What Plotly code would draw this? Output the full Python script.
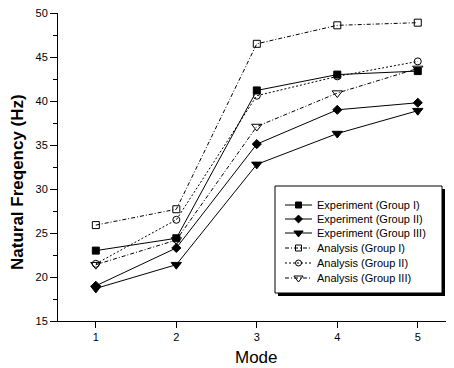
import plotly.graph_objects as go

modes = [1, 2, 3, 4, 5]
exp_g1 = [23.0, 24.4, 41.2, 43.0, 43.4]
exp_g2 = [19.0, 23.3, 35.1, 39.0, 39.8]
exp_g3 = [18.7, 21.4, 32.8, 36.3, 38.9]
ana_g1 = [25.9, 27.7, 46.5, 48.6, 48.9]
ana_g2 = [21.5, 26.5, 40.6, 42.8, 44.5]
ana_g3 = [21.4, 24.2, 37.1, 40.9, 43.7]
tick_y = [15, 20, 25, 30, 35, 40, 45, 50]

DASHDOT = "4px,2px,1px,2px"
DOT = "2px,2px"
series = [
    ("Experiment (Group I)", exp_g1, "square", "solid", 7),
    ("Experiment (Group II)", exp_g2, "diamond", "solid", 7),
    ("Experiment (Group III)", exp_g3, "triangle-down", "solid", 9),
    ("Analysis (Group I)", ana_g1, "square-open", DASHDOT, 7),
    ("Analysis (Group II)", ana_g2, "circle-open", DOT, 7),
    ("Analysis (Group III)", ana_g3, "triangle-down-open", DASHDOT, 9),
]

# page has an 8px body margin; plot area in page pixels
OFF = 8
L, R, T, B = 58, 454, 13, 321
W, H = 454 - OFF, 368 - OFF

def px(x):
    return (x - L) / (R - L)

def py(y):
    return (B - y) / (B - T)

FONT = "Liberation Sans, Arial"
fig = go.Figure()
for name, vals, sym, dash, size in series:
    fig.add_trace(go.Scatter(
        x=modes, y=vals, name=name, mode="lines+markers", showlegend=False,
        line=dict(color="black", width=1, dash=dash),
        marker=dict(symbol=sym, size=size, color="black",
                    line=dict(color="black", width=1)),
    ))

# custom legend (box with shadow)
box = dict(x0=275, x1=442, y0=186, y1=293)
shapes = [
    dict(type="rect", xref="paper", yref="paper", layer="below",
         x0=px(box["x0"] + 3), x1=px(box["x1"] + 3), y0=py(box["y0"] + 3), y1=py(box["y1"] + 3),
         fillcolor="black", line=dict(width=0)),
    dict(type="rect", xref="paper", yref="paper", layer="below",
         x0=px(box["x0"]), x1=px(box["x1"]), y0=py(box["y0"]), y1=py(box["y1"]),
         fillcolor="white", line=dict(color="black", width=1)),
]
annotations = []
row_y = [205, 219, 233, 248, 263, 278]
for (name, vals, sym, dash, size), ry in zip(series, row_y):
    shapes.append(dict(type="line", xref="paper", yref="paper", layer="below",
                       x0=px(285), x1=px(312), y0=py(ry), y1=py(ry),
                       line=dict(color="black", width=1, dash=dash)))
    fig.add_trace(go.Scatter(
        x=[298.5], y=[ry], xaxis="x2", yaxis="y2", mode="markers", showlegend=False,
        hoverinfo="skip",
        marker=dict(symbol=sym, size=size - 1, color="black",
                    line=dict(color="black", width=1)),
    ))
    annotations.append(dict(text=name, xref="paper", yref="paper", x=px(315), y=py(ry),
                            xanchor="left", yanchor="middle", showarrow=False,
                            font=dict(family=FONT, size=11, color="black")))

# axis titles
annotations.append(dict(text="Mode", xref="paper", yref="paper", x=px(256), y=py(357),
                        xanchor="center", yanchor="middle", showarrow=False,
                        font=dict(family=FONT, size=17, color="black")))
annotations.append(dict(text="<b>Natural Freqency (Hz)</b>", xref="paper", yref="paper",
                        x=px(17), y=py(182), textangle=-90,
                        xanchor="center", yanchor="middle", showarrow=False,
                        font=dict(family=FONT, size=17, color="black")))

tickfont = dict(family=FONT, size=11, color="black")
fig.update_layout(
    width=W, height=H,
    margin=dict(l=L - OFF, r=0, t=T - OFF, b=H - (B - OFF), autoexpand=False),
    paper_bgcolor="white", plot_bgcolor="white",
    font=dict(family=FONT, size=11, color="black"),
    shapes=shapes, annotations=annotations,
    xaxis=dict(range=[0.53, 5.45], tickvals=modes, showline=True, linecolor="black",
               linewidth=1, ticks="outside", ticklen=6, tickcolor="black",
               tickfont=tickfont, ticklabeloverflow="allow",
               showgrid=False, zeroline=False),
    yaxis=dict(range=[15, 50], tickvals=tick_y, showline=True, linecolor="black",
               linewidth=1, ticks="outside", ticklen=7, tickcolor="black",
               tickfont=tickfont, ticklabeloverflow="allow",
               minor=dict(dtick=2.5, ticks="outside", ticklen=4, tickcolor="black"),
               showgrid=False, zeroline=False),
    xaxis2=dict(overlaying="x", range=[L, R], visible=False, fixedrange=True),
    yaxis2=dict(overlaying="y", range=[B, T], visible=False, fixedrange=True),
)

fig.write_html("out.html")
